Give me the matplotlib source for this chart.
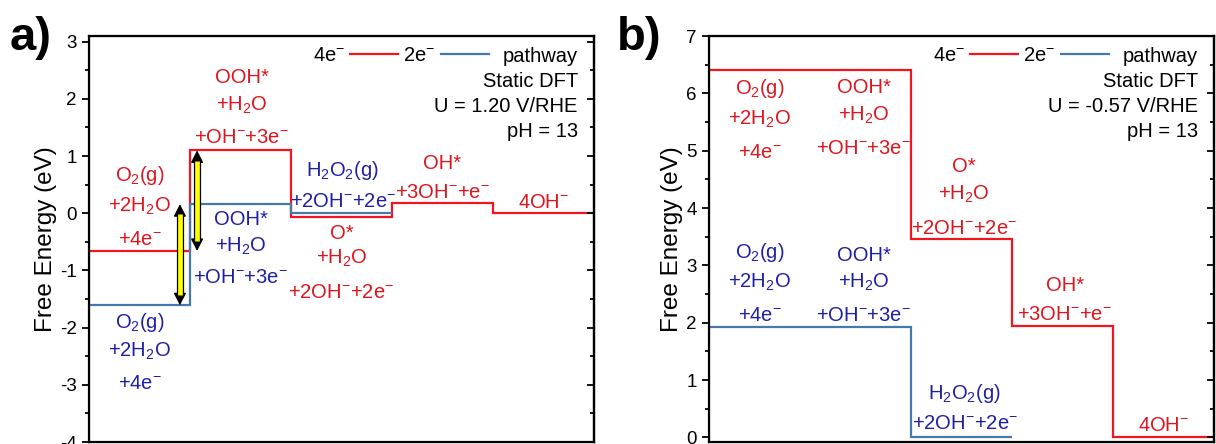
import numpy as np
import matplotlib
matplotlib.use('Agg')
import matplotlib.pyplot as plt
from matplotlib.ticker import MultipleLocator

plt.rcParams['font.family'] = ['Liberation Sans', 'DejaVu Sans']
plt.rcParams['mathtext.fontset'] = 'custom'
plt.rcParams['mathtext.rm'] = 'Liberation Sans'
plt.rcParams['mathtext.default'] = 'regular'
plt.rcParams['axes.unicode_minus'] = False

# --- colours ---
RED_LINE = "#F2141E"
RED_TEXT = "#E0141C"
BLUE_LINE = "#4678AA"
BLUE_TEXT = "#1F1FA5"

# --- data: free energy levels (eV) on reaction steps ---
steps_4e = [0, 1, 2, 3, 4, 5]
steps_2e = [0, 1, 2, 3]

a_red = [-0.66, 1.10, -0.07, 0.18, 0.0]     # 4e- pathway, U = 1.20 V
a_blue = [-1.61, 0.16, 0.0]                 # 2e- pathway, U = 1.20 V
b_red = [6.41, 6.41, 3.46, 1.94, 0.0]       # 4e- pathway, U = -0.57 V
b_blue = [1.92, 1.92, 0.0]                  # 2e- pathway, U = -0.57 V

# species labels
O2_LINES = ['O$_2$(g)', '+2H$_2$O', '+4e$^{-}$']
OOH_LINES = ['OOH*', '+H$_2$O', '+OH$^{-}$+3e$^{-}$']
O_LINES = ['O*', '+H$_2$O', '+2OH$^{-}$+2e$^{-}$']
OH_LINES = ['OH*', '+3OH$^{-}$+e$^{-}$']
OH4_LINES = ['4OH$^{-}$']
H2O2_LINES = ['H$_2$O$_2$(g)', '+2OH$^{-}$+2e$^{-}$']

# label layout: (x, lines, baselines, colour)
a_labels = [
    (0.50, O2_LINES, [0.56, 0.03, -0.55], RED_TEXT),
    (1.51, OOH_LINES, [2.27, 1.80, 1.23], RED_TEXT),
    (2.50, O_LINES, [-0.45, -0.89, -1.48], RED_TEXT),
    (3.50, OH_LINES, [0.77, 0.26], RED_TEXT),
    (4.50, OH4_LINES, [0.09], RED_TEXT),
    (0.50, O2_LINES, [-2.01, -2.50, -3.08], BLUE_TEXT),
    (1.50, OOH_LINES, [-0.20, -0.67, -1.22], BLUE_TEXT),
    (2.51, H2O2_LINES, [0.66, 0.11], BLUE_TEXT),
]
b_labels = [
    (0.50, O2_LINES, [5.99, 5.46, 4.88], RED_TEXT),
    (1.53, OOH_LINES, [6.00, 5.53, 4.95], RED_TEXT),
    (2.52, O_LINES, [4.62, 4.14, 3.54], RED_TEXT),
    (3.52, OH_LINES, [2.56, 2.05], RED_TEXT),
    (4.50, OH4_LINES, [0.11], RED_TEXT),
    (0.50, O2_LINES, [3.13, 2.61, 2.03], BLUE_TEXT),
    (1.53, OOH_LINES, [3.07, 2.61, 2.03], BLUE_TEXT),
    (2.53, H2O2_LINES, [0.67, 0.14], BLUE_TEXT),
]

# potential-determining step arrows in panel a: (x, y_from, y_to)
a_arrows = [(0.90, a_blue[0], a_blue[1]), (1.07, a_red[0], a_red[1])]

info_a = ['Static DFT', 'U = 1.20 V/RHE', 'pH = 13']
info_b = ['Static DFT', 'U = -0.57 V/RHE', 'pH = 13']

LABEL_FS = 14.5


def double_arrow(ax, x, y0, y1):
    ax.annotate('', xy=(x, y1), xytext=(x, y0),
                arrowprops=dict(arrowstyle='<|-|>,head_length=0.75,head_width=0.38',
                                color='black', lw=1, shrinkA=0, shrinkB=0),
                zorder=6)
    hl = 0.15
    ax.plot([x, x], [y0 + hl, y1 - hl], color='black', lw=5.2,
            solid_capstyle='butt', zorder=7)
    ax.plot([x, x], [y0 + hl + 0.03, y1 - hl - 0.03], color='#FFFF00', lw=3.4,
            solid_capstyle='butt', zorder=8)


def draw_panel(ax, red, blue, labels, info, ylim, ymajor):
    ax.stairs(red, steps_4e, baseline=None, color=RED_LINE, lw=1.6, zorder=3)
    ax.stairs(blue, steps_2e, baseline=None, color=BLUE_LINE, lw=1.6, zorder=4)

    for x, lines, ys, col in labels:
        for txt, y in zip(lines, ys):
            ax.text(x, y, txt, color=col, fontsize=LABEL_FS, ha='center',
                    va='baseline', zorder=5)

    ax.set_xlim(0, 5)
    ax.set_ylim(*ylim)
    ax.set_xticks([])
    for sp in ax.spines.values():
        sp.set_linewidth(1.6)

    # mirrored axis on the right with inward ticks
    axr = ax.twinx()
    axr.set_ylim(*ylim)
    for a, d in ((ax, 'out'), (axr, 'in')):
        a.yaxis.set_major_locator(MultipleLocator(ymajor))
        a.yaxis.set_minor_locator(MultipleLocator(ymajor / 2))
        a.tick_params(axis='y', which='both', direction=d, width=1.3,
                      labelsize=13.5, pad=4)
        a.tick_params(axis='y', which='major', length=5)
        a.tick_params(axis='y', which='minor', length=3)
    axr.tick_params(axis='y', which='both', labelright=False)
    axr.spines['right'].set_linewidth(1.6)

    ax.set_ylabel('Free Energy (eV)', fontsize=17.5, labelpad=2)

    # legend: "4e- ---- 2e- ---- pathway"
    h1, = ax.plot([], [], color=RED_LINE, lw=1.6)
    h2, = ax.plot([], [], color=BLUE_LINE, lw=1.6)
    ax.legend([h1, h2], ['4e$^{-}$', '2e$^{-}$'], ncol=2, markerfirst=False,
              frameon=False, fontsize=LABEL_FS, loc='center right',
              bbox_to_anchor=(0.792, 0.952), borderpad=0, borderaxespad=0,
              handlelength=2.4, handletextpad=0.25, columnspacing=0.25)
    ax.text(0.968, 0.937, 'pathway', transform=ax.transAxes, ha='right',
            va='baseline', fontsize=LABEL_FS)
    for txt, y in zip(info, [0.875, 0.814, 0.752]):
        ax.text(0.968, y, txt, transform=ax.transAxes, ha='right',
                va='baseline', fontsize=LABEL_FS)


fig = plt.figure(figsize=(12.16, 4.44), dpi=100)
ax_a = fig.add_axes([0.0732, 0.0045, 0.4153, 0.9144])
ax_b = fig.add_axes([0.5831, 0.0045, 0.4153, 0.9144])

draw_panel(ax_a, a_red, a_blue, a_labels, info_a, (-4, 3.1), 1)
draw_panel(ax_b, b_red, b_blue, b_labels, info_b, (-0.08, 7), 1)

for x, y0, y1 in a_arrows:
    double_arrow(ax_a, x, y0, y1)

fig.text(0.008, 0.887, 'a)', fontsize=34, fontweight='bold', va='baseline')
fig.text(0.507, 0.887, 'b)', fontsize=34, fontweight='bold', va='baseline')

fig.savefig('out.png', dpi=100, facecolor='white')
